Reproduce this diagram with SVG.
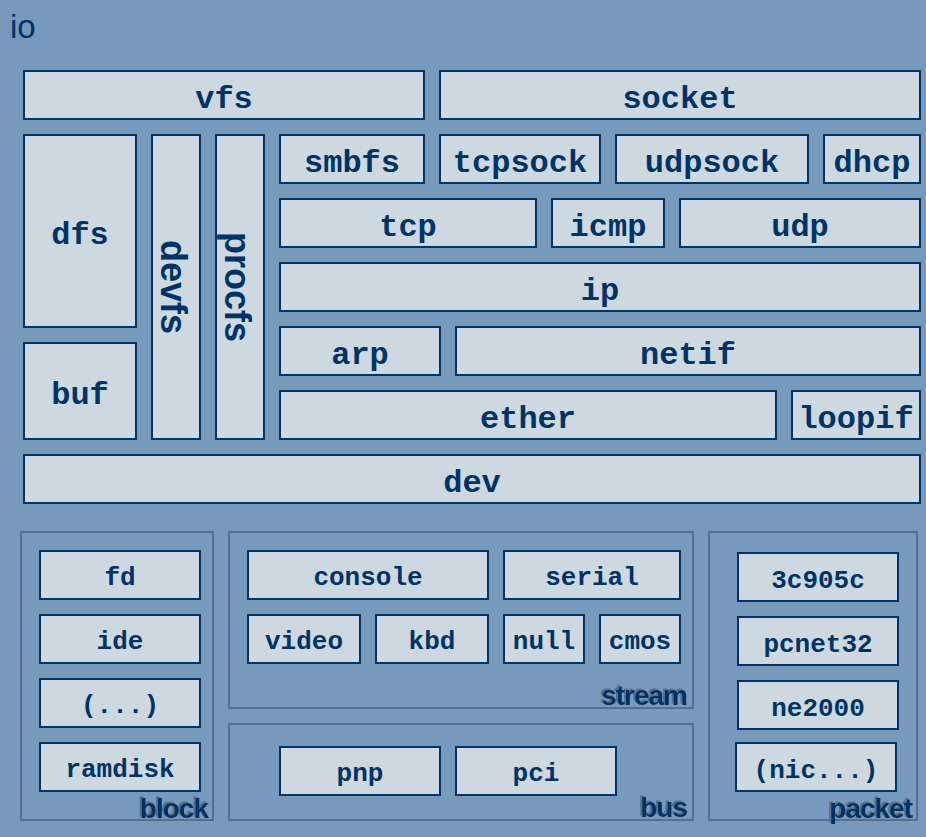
<svg xmlns="http://www.w3.org/2000/svg" width="926" height="837" viewBox="0 0 926 837">
<defs>
<filter id="shadow" x="-10%" y="-20%" width="120%" height="140%">
<feDropShadow dx="-2" dy="-1.5" stdDeviation="0" flood-color="#5a6e84" flood-opacity="1"/>
</filter>
</defs>
<style>
.bg{fill:#7799bb}
.box rect{fill:#cdd8e0;stroke:#003366;stroke-width:2}
.t{font-family:"Liberation Mono",monospace;font-weight:bold;fill:#003366;text-anchor:middle}
.big{font-size:32px}
.sm{font-size:26px}
.rot{font-family:"Liberation Sans",Arial,sans-serif;font-weight:bold;font-size:36px;fill:#003366;text-anchor:middle}
.frame{fill:none;stroke:#56708c;stroke-width:2}
.lbl{font-family:"Liberation Sans",Arial,sans-serif;font-weight:bold;font-size:28px;letter-spacing:-1px;text-anchor:end;fill:#003366;filter:url(#shadow)}
</style>
<rect class="bg" x="0" y="0" width="926" height="837"/>
<text x="10" y="38" font-family="Liberation Sans, Arial, sans-serif" font-size="33" fill="#003366">io</text>

<g id="vfs" class="box"><rect x="24" y="71" width="400" height="48"/><text class="t big" x="224" y="108">vfs</text></g>
<g id="socket" class="box"><rect x="440" y="71" width="480" height="48"/><text class="t big" x="680" y="108">socket</text></g>
<g id="dfs" class="box"><rect x="24" y="135" width="112" height="192"/><text class="t big" x="80" y="244">dfs</text></g>
<g id="buf" class="box"><rect x="24" y="343" width="112" height="96"/><text class="t big" x="80" y="404">buf</text></g>
<g id="devfs" class="box"><rect x="152" y="135" width="48" height="304"/><text class="rot" transform="translate(161,287) rotate(90)">devfs</text></g>
<g id="procfs" class="box"><rect x="216" y="135" width="48" height="304"/><text class="rot" transform="translate(225,287) rotate(90)">procfs</text></g>
<g id="smbfs" class="box"><rect x="280" y="135" width="144" height="48"/><text class="t big" x="352" y="172">smbfs</text></g>
<g id="tcpsock" class="box"><rect x="440" y="135" width="160" height="48"/><text class="t big" x="520" y="172">tcpsock</text></g>
<g id="udpsock" class="box"><rect x="616" y="135" width="192" height="48"/><text class="t big" x="712" y="172">udpsock</text></g>
<g id="dhcp" class="box"><rect x="824" y="135" width="96" height="48"/><text class="t big" x="872" y="172">dhcp</text></g>
<g id="tcp" class="box"><rect x="280" y="199" width="256" height="48"/><text class="t big" x="408" y="236">tcp</text></g>
<g id="icmp" class="box"><rect x="552" y="199" width="112" height="48"/><text class="t big" x="608" y="236">icmp</text></g>
<g id="udp" class="box"><rect x="680" y="199" width="240" height="48"/><text class="t big" x="800" y="236">udp</text></g>
<g id="ip" class="box"><rect x="280" y="263" width="640" height="48"/><text class="t big" x="600" y="300">ip</text></g>
<g id="arp" class="box"><rect x="280" y="327" width="160" height="48"/><text class="t big" x="360" y="364">arp</text></g>
<g id="netif" class="box"><rect x="456" y="327" width="464" height="48"/><text class="t big" x="688" y="364">netif</text></g>
<g id="ether" class="box"><rect x="280" y="391" width="496" height="48"/><text class="t big" x="528" y="428">ether</text></g>
<g id="loopif" class="box"><rect x="792" y="391" width="128" height="48"/><text class="t big" x="856" y="428">loopif</text></g>
<g id="dev" class="box"><rect x="24" y="455" width="896" height="48"/><text class="t big" x="472" y="492">dev</text></g>

<g id="block">
<rect class="frame" x="21" y="532" width="192" height="288"/>
<text class="lbl" x="208" y="818">block</text>
</g>
<g id="fd" class="box"><rect x="40" y="551" width="160" height="48"/><text class="t sm" x="120" y="585">fd</text></g>
<g id="ide" class="box"><rect x="40" y="615" width="160" height="48"/><text class="t sm" x="120" y="649">ide</text></g>
<g id="etc" class="box"><rect x="40" y="679" width="160" height="48"/><text class="t sm" x="120" y="713">(...)</text></g>
<g id="ramdisk" class="box"><rect x="40" y="743" width="160" height="48"/><text class="t sm" x="120" y="777">ramdisk</text></g>

<g id="stream">
<rect class="frame" x="229" y="532" width="464" height="176"/>
<text class="lbl" x="687" y="705">stream</text>
</g>
<g id="console" class="box"><rect x="248" y="551" width="240" height="48"/><text class="t sm" x="368" y="585">console</text></g>
<g id="serial" class="box"><rect x="504" y="551" width="176" height="48"/><text class="t sm" x="592" y="585">serial</text></g>
<g id="video" class="box"><rect x="248" y="615" width="112" height="48"/><text class="t sm" x="304" y="649">video</text></g>
<g id="kbd" class="box"><rect x="376" y="615" width="112" height="48"/><text class="t sm" x="432" y="649">kbd</text></g>
<g id="null" class="box"><rect x="504" y="615" width="80" height="48"/><text class="t sm" x="544" y="649">null</text></g>
<g id="cmos" class="box"><rect x="600" y="615" width="80" height="48"/><text class="t sm" x="640" y="649">cmos</text></g>

<g id="bus">
<rect class="frame" x="229" y="724" width="464" height="96"/>
<text class="lbl" x="687" y="817">bus</text>
</g>
<g id="pnp" class="box"><rect x="280" y="747" width="160" height="48"/><text class="t sm" x="360" y="781">pnp</text></g>
<g id="pci" class="box"><rect x="456" y="747" width="160" height="48"/><text class="t sm" x="536" y="781">pci</text></g>

<g id="packet">
<rect class="frame" x="709" y="532" width="208" height="288"/>
<text class="lbl" x="912" y="818">packet</text>
</g>
<g id="c3c905c" class="box"><rect x="738" y="553" width="160" height="48"/><text class="t sm" x="818" y="588">3c905c</text></g>
<g id="pcnet32" class="box"><rect x="738" y="617" width="160" height="48"/><text class="t sm" x="818" y="652">pcnet32</text></g>
<g id="ne2000" class="box"><rect x="738" y="681" width="160" height="48"/><text class="t sm" x="818" y="716">ne2000</text></g>
<g id="nic" class="box"><rect x="736" y="743" width="160" height="48"/><text class="t sm" x="816" y="778">(nic...)</text></g>
<g id="connectors"></g>
</svg>
